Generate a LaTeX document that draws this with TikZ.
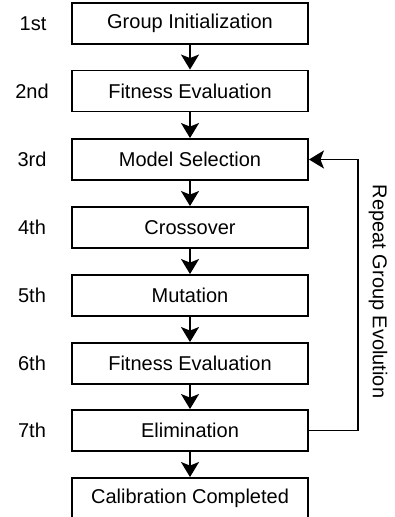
\documentclass[tikz,border=0pt]{standalone}
\usepackage{fontspec}
\setmainfont{Liberation Sans}
\usetikzlibrary{arrows.meta}
\begin{document}
\begin{tikzpicture}[x=1pt,y=-1pt,
  stepbox/.style={draw, line width=1.9pt, minimum width=236pt, minimum height=41pt, inner sep=0pt, font=\fontsize{20}{23}\selectfont},
  steplabel/.style={font=\fontsize{20}{23}\selectfont},
  flow/.style={line width=1.9pt, -{Stealth[length=15pt,width=18pt,inset=3.5pt]}}]
\useasboundingbox (0,0) rectangle (395,517);
\node[stepbox] (b1) at (190,23.5) {Group Initialization};
\node[stepbox] (b2) at (190,91) {Fitness Evaluation};
\node[stepbox] (b3) at (190,159.5) {Model Selection};
\node[stepbox] (b4) at (190,227.5) {Crossover};
\node[stepbox] (b5) at (190,295.5) {Mutation};
\node[stepbox] (b6) at (190,363.5) {Fitness Evaluation};
\node[stepbox] (b7) at (190,430.5) {Elimination};
\node[stepbox] (b8) at (190,498.5) {Calibration Completed};
\node[steplabel] (l1) at (33,23.5) {1st};
\node[steplabel] (l2) at (32,91) {2nd};
\node[steplabel] (l3) at (32,159.5) {3rd};
\node[steplabel] (l4) at (32,227.5) {4th};
\node[steplabel] (l5) at (32,295.5) {5th};
\node[steplabel] (l6) at (32,363.5) {6th};
\node[steplabel] (l7) at (32,430.5) {7th};
\draw[flow] (b1) -- (b2);
\draw[flow] (b2) -- (b3);
\draw[flow] (b3) -- (b4);
\draw[flow] (b4) -- (b5);
\draw[flow] (b5) -- (b6);
\draw[flow] (b6) -- (b7);
\draw[flow] (b7) -- (b8);
\coordinate (cb) at (358,430.5);
\coordinate (ct) at (358,159.5);
\draw[flow] (b7.east) -- (cb) -- (ct) -- (b3.east);
\node[steplabel, rotate=-90] (rep) at (378,291.5) {Repeat Group Evolution};
\end{tikzpicture}
\end{document}
